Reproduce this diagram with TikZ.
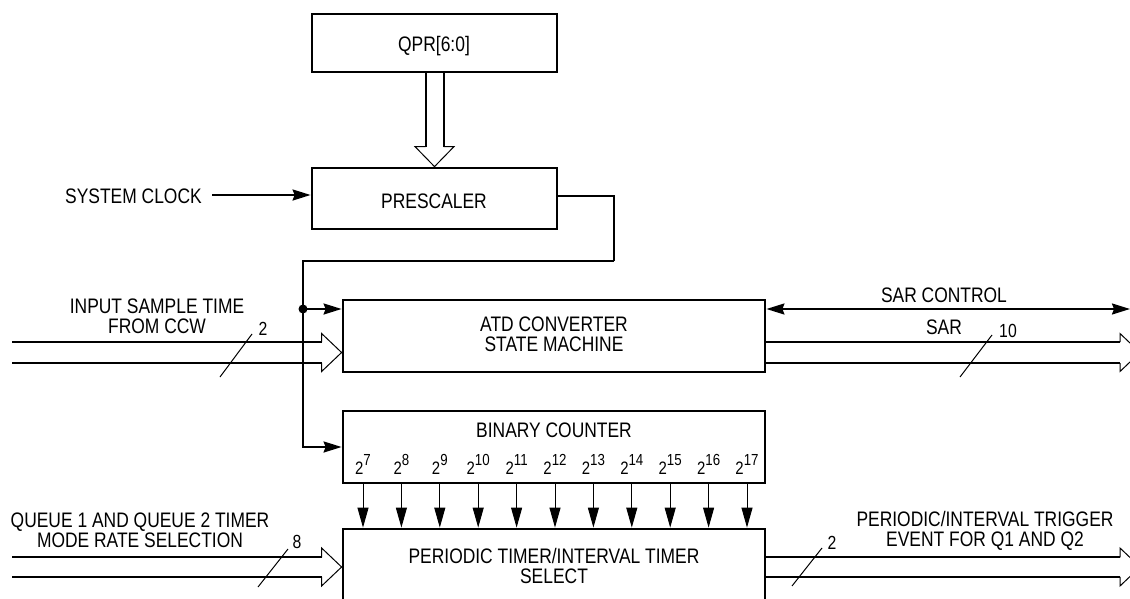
\documentclass[tikz,border=0pt]{standalone}
\usepackage{fontspec}
\setmainfont{Liberation Sans}[FakeStretch=0.83]
\usetikzlibrary{arrows.meta,calc}
\tikzset{
  blk/.style={draw, line width=2.8pt, inner sep=0pt},
  txt/.style={inner sep=0pt, font=\fontsize{21}{20}\selectfont, align=center},
  num/.style={inner sep=0pt, font=\fontsize{19}{19}\selectfont},
  pwr/.style={inner sep=0pt, font=\fontsize{18}{18}\selectfont},
  wire/.style={line width=2pt},
  thinwire/.style={line width=1.2pt},
  busline/.style={line width=2pt},
  bushead/.style={line width=1pt, line join=miter},
  slash/.style={line width=1pt},
  tick/.style={line width=1pt, -{Triangle[length=20pt,width=11pt]}},
  arr/.style={-{Stealth[length=18pt,width=11pt,inset=2pt]}},
  darr/.style={{Stealth[length=18pt,width=11pt,inset=2pt]}-{Stealth[length=18pt,width=11pt,inset=2pt]}},
}
\newcommand\hbusarrow[3]{%
  \draw[busline] ($(#1)+(0,-#3)$) -- ($(#2)+(-20,-#3)$);
  \draw[busline] ($(#1)+(0,#3)$) -- ($(#2)+(-20,#3)$);
  \draw[bushead] ($(#2)+(-20,-#3)$) -- ($(#2)+(-20,-19)$) -- (#2) -- ($(#2)+(-20,19)$) -- ($(#2)+(-20,#3)$);
}
\begin{document}
\begin{tikzpicture}[x=1pt,y=-1pt]
\useasboundingbox (0,0) rectangle (1130,599);

% boxes
\node[blk, minimum width=245pt, minimum height=58pt] (QPR) at (434.5,43) {};
\node[txt, anchor=base] (QPRt) at (434,52) {QPR[6:0]};
\node[blk, minimum width=245pt, minimum height=61pt] (PRE) at (434.5,198.5) {};
\node[txt] (PREt) at (434,201) {PRESCALER};
\node[blk, minimum width=422pt, minimum height=72pt] (ATD) at (554,336) {};
\node[txt] (ATDt) at (554,334) {ATD CONVERTER\\STATE MACHINE};
\node[blk, minimum width=422pt, minimum height=72pt] (BIN) at (554,447) {};
\node[txt] (BINt) at (554,430) {BINARY COUNTER};
\node[blk, minimum width=422pt, minimum height=100pt] (PER) at (554,579) {};
\node[txt] (PERt) at (554,565.5) {PERIODIC TIMER/INTERVAL TIMER\\SELECT};

% QPR -> PRESCALER hollow bus
\draw[busline] ($(QPR.south)+(-9,0)$) -- ($(PRE.north)+(-9,-20)$);
\draw[busline] ($(QPR.south)+(9,0)$) -- ($(PRE.north)+(9,-20)$);
\draw[bushead] ($(PRE.north)+(-9,-20)$) -- ($(PRE.north)+(-19.5,-20)$) -- (PRE.north) -- ($(PRE.north)+(19.5,-20)$) -- ($(PRE.north)+(9,-20)$);

% system clock
\node[txt] (SCK) at (133.5,196.5) {SYSTEM CLOCK};
\coordinate (sc) at (212,195);
\draw[wire,arr] (sc) -- (PRE.west |- sc);

% prescaler output wiring
\coordinate (c1) at (614,196);
\coordinate (c2) at (614,261);
\coordinate (c3) at (303,261);
\coordinate (dot) at (303,309);
\draw[thinwire] (PRE.east |- c1) -- (c1) -- (c2);
\draw[wire] (c2) -- (c3) -- (dot);
\draw[wire,arr] (dot) |- (BIN.west);
\draw[wire,arr] (dot) -- (ATD.west |- dot);
\fill (dot) circle (4.5pt);

% input sample time bus
\node[txt] (IST) at (157,316.5) {INPUT SAMPLE TIME\\FROM CCW};
\coordinate (in1) at (12,352.5);
\coordinate (in1tip) at (ATD.west |- in1);
\hbusarrow{in1}{in1tip}{10.5}
\draw[slash] (220,377) -- (252,334);
\node[num] (n2a) at (263,328.5) {2};

% SAR control and SAR bus
\coordinate (sarc) at (1130,309);
\draw[wire,darr] (ATD.east |- sarc) -- (sarc);
\node[txt] (SARC) at (944,295) {SAR CONTROL};
\node[txt] (SAR) at (944,327.5) {SAR};
\coordinate (out1s) at (ATD.east |- in1);
\coordinate (out1tip) at (1140,352.5);
\hbusarrow{out1s}{out1tip}{10.5}
\draw[slash] (960,377) -- (992,335);
\node[num] (n10) at (1008,331) {10};

% binary counter outputs
\foreach \e [count=\i from 0] in {7,...,17} {
  \pgfmathsetmacro\xx{363+38.4*\i}
  \node[pwr, anchor=base] (p\e) at (\xx,474) {2\raisebox{9pt}{\fontsize{16}{16}\selectfont\e}};
  \coordinate (a\e) at (\xx,0);
  \draw[tick] (BIN.south -| a\e) -- (PER.north -| a\e);
}

% queue mode rate bus
\node[txt] (QMR) at (140,530) {QUEUE 1 AND QUEUE 2 TIMER\\MODE RATE SELECTION};
\coordinate (in2) at (12,567);
\coordinate (in2tip) at (PER.west |- in2);
\hbusarrow{in2}{in2tip}{9.75}
\draw[slash] (258,587) -- (288,549);
\node[num] (n8) at (297,542) {8};

% trigger output bus
\node[txt] (TRG) at (985,531) {PERIODIC/INTERVAL TRIGGER\\EVENT FOR Q1 AND Q2};
\coordinate (out2s) at (PER.east |- in2);
\coordinate (out2tip) at (1140,567);
\hbusarrow{out2s}{out2tip}{9.75}
\draw[slash] (792,586) -- (822,548);
\node[num] (n2b) at (832,543) {2};
\end{tikzpicture}
\end{document}
